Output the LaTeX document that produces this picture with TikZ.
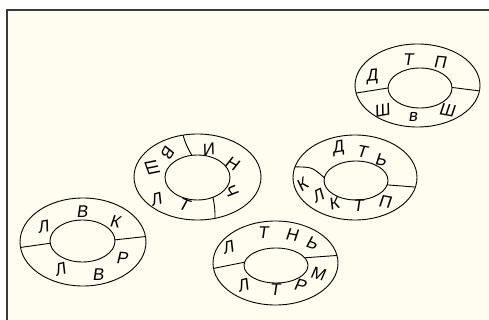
\documentclass[tikz,border=0pt]{standalone}
\usepackage{fontspec}
\newfontfamily\handfont[FakeSlant=0.15]{Liberation Sans}
\usepackage{xcolor}
\usepackage{tikz}
\usetikzlibrary{shapes.geometric}

\definecolor{paper}{HTML}{FFFDF0}
\definecolor{frameline}{HTML}{3A3A3A}

\begin{document}
\begin{tikzpicture}[
  x=1pt, y=-1pt,
  outer/.style={
    draw,
    ellipse,
    line width=0.9pt,
    inner sep=0pt,
    outer sep=0pt,
    minimum width=126pt,
    minimum height=85pt
  },
  inner/.style={
    draw,
    ellipse,
    line width=0.9pt,
    inner sep=0pt,
    outer sep=0pt,
    minimum width=64pt,
    minimum height=42pt
  },
  divider/.style={line width=0.9pt},
  letter/.style={
    inner sep=0pt,
    font=\handfont\fontsize{17}{17}\selectfont
  }
]
  \useasboundingbox (0,0) rectangle (489,320);
  \fill[white] (0,0) rectangle (489,320);
  \fill[paper] (7,10) rectangle (489,320);
  \draw[frameline,line width=1.4pt] (7,320) -- (7,10) -- (489,10);

  % ring with Л В К / Л В Р
  \node[outer,minimum height=88pt] (oa) at (83,242) {};
  \node[inner,minimum width=65pt] (ia) at (82.5,241) {};
  \draw[divider] (oa.185.5) -- (ia.184);
  \draw[divider] (ia.2) -- (oa.5);
  \node[letter,rotate=10] (a1) at (43,227) {Л};
  \node[letter] (a2) at (82,212) {В};
  \node[letter,rotate=-10] (a3) at (115,222) {К};
  \node[letter,rotate=15] (a4) at (60,269) {Л};
  \node[letter] (a5) at (98,275) {В};
  \node[letter,rotate=-5] (a6) at (122,258) {Р};

  % ring with Ш В И Н Ч / Л Т
  \node[outer,minimum width=127pt,minimum height=86pt] (ob) at (197.5,177) {};
  \node[inner,minimum width=65pt,minimum height=45pt] (ib) at (197.5,177.5) {};
  \draw[divider] (ob.109) to[bend right=8] (ib.104);
  \draw[divider] (ib.308.5) to[bend left=6] (ob.293);
  \node[letter,rotate=-70] (b1) at (152,167) {Ш};
  \node[letter,rotate=-120] (b2) at (168,152) {В};
  \node[letter,rotate=10] (b3) at (208,150) {И};
  \node[letter,rotate=-30] (b4) at (232,164) {Н};
  \node[letter,rotate=-60] (b5) at (231,190) {Ч};
  \node[letter,rotate=15] (b6) at (156,199) {Л};
  \node[letter,rotate=-20] (b7) at (184,205) {Т};

  % ring with Л Т Н Ь / Л Т Р М
  \node[outer,minimum width=125pt,minimum height=84pt] (oc) at (275.5,263) {};
  \node[inner,minimum height=35pt] (ic) at (276,265.5) {};
  \draw[divider] (oc.185) -- (ic.174);
  \draw[divider] (ic.15) -- (oc.7.5);
  \node[letter,rotate=15] (c1) at (228,247) {Л};
  \node[letter] (c2) at (263,233) {Т};
  \node[letter,rotate=-10] (c3) at (292,235) {Н};
  \node[letter,rotate=-20] (c4) at (312,243) {Ь};
  \node[letter,rotate=15] (c5) at (243,285) {Л};
  \node[letter] (c6) at (275,290) {Т};
  \node[letter,rotate=-15] (c7) at (300,285) {Р};
  \node[letter,rotate=-15] (c8) at (318,274) {М};

  % ring with Д Т Ь / К Л К Т П
  \node[outer,minimum width=124pt] (od) at (355,177.5) {};
  \node[inner,minimum height=39pt] (id) at (356,180.5) {};
  \draw[divider] (od.170) .. controls (312,167) .. (id.175.5);
  \draw[divider] (id.352) -- (od.351);
  \node[letter,rotate=10] (d1) at (338,148) {Д};
  \node[letter,rotate=-10] (d2) at (362,152) {Т};
  \node[letter,rotate=-10] (d3) at (381,160) {Ь};
  \node[letter,rotate=35] (d4) at (302,185) {К};
  \node[letter,rotate=25] (d5) at (318,196) {Л};
  \node[letter,rotate=15] (d6) at (334,204) {К};
  \node[letter] (d7) at (358,206) {Т};
  \node[letter,rotate=-10] (d8) at (385,202) {П};

  % ring with Д Т П / Ш в Ш
  \node[outer,minimum width=125pt,minimum height=83pt] (oe) at (417.5,85.5) {};
  \node[inner,minimum height=40pt] (ie) at (420,88) {};
  \draw[divider] (oe.187) -- (ie.180);
  \draw[divider] (ie.1.5) -- (oe.355);
  \node[letter,rotate=5] (e1) at (372,77) {Д};
  \node[letter] (e2) at (408,60) {Т};
  \node[letter,rotate=-5] (e3) at (440,62) {П};
  \node[letter,rotate=10] (e4) at (382,110) {Ш};
  \node[letter] (e5) at (413,117) {в};
  \node[letter,rotate=-10] (e6) at (447,110) {Ш};
\end{tikzpicture}
\end{document}
